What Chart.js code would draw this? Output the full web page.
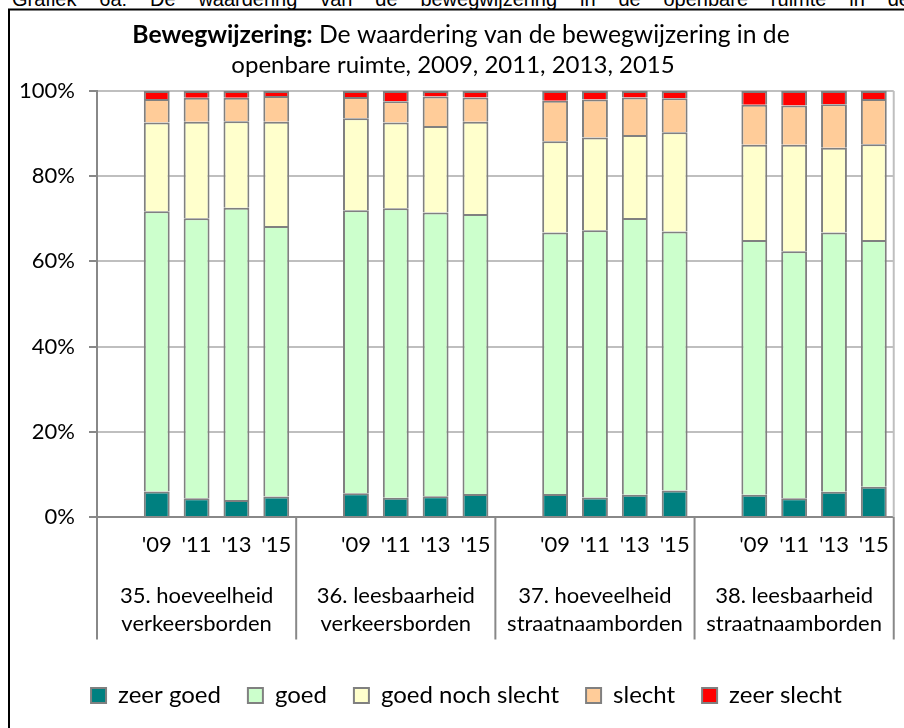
<!DOCTYPE html>
<html>
<head>
<meta charset="utf-8">
<script src="https://cdn.jsdelivr.net/npm/chart.js@4.4.1/dist/chart.umd.min.js"></script>
<style>
  html, body { margin: 0; padding: 0; background: #fff; overflow: hidden; }
  .page { position: relative; width: 904px; height: 728px; overflow: hidden; }
  .cut-header {
    position: absolute; left: 12px; top: -11px; width: 898px;
    display: flex; justify-content: space-between;
    font: 20px/20px "Liberation Sans", Arial, sans-serif; color: #000;
    white-space: nowrap;
  }
  canvas { position: absolute; left: 0; top: 0; }
</style>
</head>
<body>
<div class="page">
  <div class="cut-header">
    <span>Grafiek</span><span>6a:</span><span>De</span><span>waardering</span><span>van</span><span>de</span><span>bewegwijzering</span><span>in</span><span>de</span><span>openbare</span><span>ruimte</span><span>in</span><span>de</span>
  </div>
  <canvas id="chart" width="904" height="728"></canvas>
</div>
<script>
const groupLabels = [
  ["35. hoeveelheid", "verkeersborden"],
  ["36. leesbaarheid", "verkeersborden"],
  ["37. hoeveelheid", "straatnaamborden"],
  ["38. leesbaarheid", "straatnaamborden"],
];
const yearLabels = ["'09", "'11", "'13", "'15"];

// percentages per bar, group by group ('09, '11, '13, '15)
const zeerGoed = [6.0, 4.4, 4.0, 4.8, 5.6, 4.5, 4.9, 5.4, 5.4, 4.6, 5.2, 6.2, 5.2, 4.4, 5.9, 7.1];
const goed = [65.8, 65.7, 68.6, 63.5, 66.4, 68.0, 66.6, 65.7, 61.4, 62.7, 65.0, 60.8, 59.8, 58.0, 60.9, 57.9];
const goedNochSlecht = [20.8, 22.7, 20.3, 24.5, 21.6, 20.1, 20.3, 21.7, 21.4, 21.8, 19.5, 23.3, 22.4, 25.0, 19.9, 22.5];
const slecht = [5.5, 5.6, 5.5, 6.0, 5.0, 5.0, 6.9, 5.7, 9.5, 8.9, 8.8, 8.0, 9.4, 9.2, 10.2, 10.6];
const zeerSlecht = [1.9, 1.6, 1.6, 1.2, 1.4, 2.4, 1.3, 1.5, 2.3, 2.0, 1.5, 1.7, 3.2, 3.4, 3.1, 1.9];

const titleBold = "Bewegwijzering:";
const titleRest = " De waardering van de bewegwijzering in de";
const titleLine2 = "openbare ruimte, 2009, 2011, 2013, 2015";

// each group starts with an empty slot, like the source sheet
function withGaps(values) {
  const out = [];
  groupLabels.forEach((g, gi) => {
    out.push(null);
    yearLabels.forEach((y, yi) => out.push(values[gi * yearLabels.length + yi]));
  });
  return out;
}
const slotLabels = withGaps(yearLabels.concat(yearLabels, yearLabels, yearLabels)).map((v) => v || "");

const FONT = "Lato, 'Noto Sans', sans-serif";
Chart.defaults.font.family = FONT;
Chart.defaults.font.size = 22;
Chart.defaults.color = "#000";

function series(label, data, color) {
  return {
    label,
    data: withGaps(data),
    backgroundColor: color,
    borderColor: "#808080",
    borderWidth: 2,
    barPercentage: 0.65,
    categoryPercentage: 1.0,
  };
}

const framePlugin = {
  id: "frame",
  beforeDraw(chart) {
    const ctx = chart.ctx;
    ctx.save();
    ctx.strokeStyle = "#000";
    ctx.lineWidth = 2;
    ctx.strokeRect(9, 9.5, 1000, 1000);
    ctx.restore();
  },
};

const titlePlugin = {
  id: "richTitle",
  afterDraw(chart) {
    const ctx = chart.ctx;
    ctx.save();
    ctx.fillStyle = "#000";
    ctx.textBaseline = "alphabetic";
    ctx.font = "bold 24.7px " + FONT;
    const wBold = ctx.measureText(titleBold).width;
    ctx.font = "24.7px " + FONT;
    const wRest = ctx.measureText(titleRest).width;
    const x = 461 - (wBold + wRest) / 2;
    ctx.font = "bold 24.7px " + FONT;
    ctx.fillText(titleBold, x, 43);
    ctx.font = "24.7px " + FONT;
    ctx.fillText(titleRest, x + wBold, 43);
    ctx.font = "24px " + FONT;
    ctx.textAlign = "center";
    ctx.fillText(titleLine2, 453, 73);
    ctx.restore();
  },
};

// legend sits a little right of the plot centre in the source
const legendShift = {
  id: "legendShift",
  afterLayout(chart) {
    chart.legend.left += 18;
    chart.legend.right += 18;
  },
};

const separatorPlugin = {
  id: "separators",
  afterDraw(chart) {
    const { ctx, chartArea, scales } = chart;
    const x = scales.x;
    const slot = x.width / slotLabels.length;
    const per = yearLabels.length + 1;
    ctx.save();
    ctx.strokeStyle = "#bfbfbf";
    ctx.lineWidth = 2;
    ctx.beginPath();
    ctx.moveTo(chartArea.right, chartArea.top);
    ctx.lineTo(chartArea.right, chartArea.bottom);
    ctx.stroke();
    ctx.strokeStyle = "#888";
    for (let g = 0; g <= groupLabels.length; g++) {
      const px = g < groupLabels.length ? x.getPixelForValue(g * per) - slot / 2 : chartArea.right;
      ctx.beginPath();
      ctx.moveTo(px, chartArea.bottom);
      ctx.lineTo(px, scales.x2.bottom - 17);
      ctx.stroke();
    }
    ctx.restore();
  },
};

new Chart(document.getElementById("chart"), {
  type: "bar",
  data: {
    labels: slotLabels,
    datasets: [
      series("zeer goed", zeerGoed, "#008080"),
      series("goed", goed, "#CCFFCC"),
      series("goed noch slecht", goedNochSlecht, "#FFFFCC"),
      series("slecht", slecht, "#FFCC99"),
      series("zeer slecht", zeerSlecht, "#FF0000"),
    ],
  },
  options: {
    responsive: false,
    animation: false,
    layout: { padding: { left: 0, right: 7, top: 91, bottom: 10.5 } },
    plugins: {
      tooltip: { enabled: false },
      title: { display: false },
      legend: {
        position: "bottom",
        labels: { boxWidth: 15, boxHeight: 15, padding: 27, font: { size: 24 } },
      },
    },
    scales: {
      x: {
        stacked: true,
        grid: { drawOnChartArea: false, drawTicks: false },
        border: { color: "#888", width: 2 },
        ticks: { autoSkip: false, maxRotation: 0, padding: 15 },
        afterFit(scale) { scale.height = 49; },
      },
      x2: {
        type: "category",
        position: "bottom",
        weight: 1,
        labels: groupLabels,
        offset: true,
        grid: { display: false },
        border: { display: false },
        ticks: { autoSkip: false, maxRotation: 0, padding: 8, font: { size: 22, lineHeight: 1.27 } },
        afterFit(scale) { scale.height = 90.5; },
      },
      y: {
        stacked: true,
        min: 0,
        max: 100,
        ticks: { stepSize: 20, padding: 14, callback: (v) => v + "%" },
        grid: { color: "#bfbfbf", lineWidth: 2, tickLength: 8, tickColor: "#888" },
        border: { color: "#888", width: 2 },
        afterFit(scale) { scale.width = 97; },
      },
    },
  },
  plugins: [framePlugin, titlePlugin, legendShift, separatorPlugin],
});
</script>
</body>
</html>
